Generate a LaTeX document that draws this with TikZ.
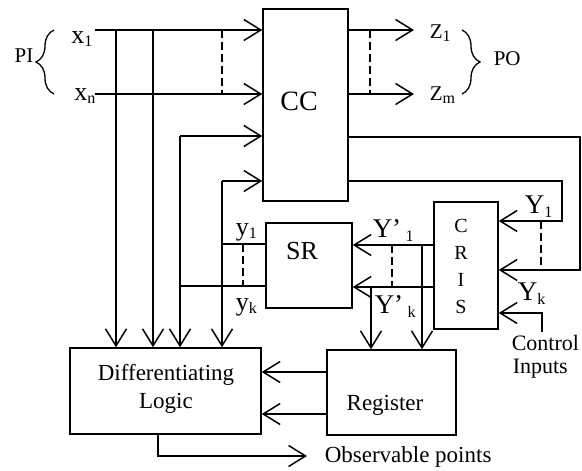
\documentclass[tikz,border=0pt]{standalone}
\usepackage{fontspec}
\setmainfont{Liberation Serif}
\usetikzlibrary{arrows.meta,decorations.pathreplacing}
\newcommand\mysub[1]{\raisebox{-0.15em}{\fontsize{16}{16}\selectfont #1}}
\begin{document}
\begin{tikzpicture}[x=1pt,y=-1pt,line width=1.5pt,
  box/.style={draw,rectangle,inner sep=0pt},
  lbl/.style={inner sep=0pt},
  arr/.style={-{Straight Barb[length=17pt,width=21pt]}},
  dsh/.style={dash pattern=on 8pt off 4pt},
  brc/.style={line width=1.3pt,decorate,decoration={brace,amplitude=18pt}},
  big/.style={font=\fontsize{26}{28}\selectfont},
  mid/.style={font=\fontsize{23}{28}\selectfont},
  sml/.style={font=\fontsize{21}{24}\selectfont}]
\useasboundingbox (0,0) rectangle (582,471);
% boxes
\node[box,minimum width=85pt,minimum height=192pt] (CC) at (305.5,105) {};
\node[box,minimum width=86pt,minimum height=85pt] (SR) at (309,265.5) {};
\node[box,minimum width=64pt,minimum height=127pt] (CRIS) at (466,265.5) {};
\node[box,minimum width=129pt,minimum height=85pt] (REG) at (391.5,392.5) {};
\node[box,minimum width=191pt,minimum height=86pt] (DL) at (165.5,391) {};
% box labels
\node[lbl,font=\fontsize{28}{28}\selectfont,anchor=base] (cct) at (299,110) {CC};
\node[lbl,big,anchor=base] (srt) at (302,259) {SR};
\node[lbl,font=\fontsize{20}{27}\selectfont,align=center] (crist) at (461,266) {C\\R\\I\\S};
\node[lbl,mid,anchor=base] (regt) at (385,410) {Register};
\node[lbl,mid,align=center,anchor=base] (dlt) at (166,408) {Differentiating\\Logic};
% primary inputs
\coordinate (x1s) at (95,30);
\coordinate (xns) at (95,94);
\coordinate (v1) at (116,30);
\coordinate (v2) at (153,30);
\coordinate (d1a) at (222,30);
\coordinate (d1b) at (222,94);
\coordinate (c3) at (180,136);
\coordinate (c4) at (222,181);
\draw[arr] (x1s) -- (x1s -| CC.west);
\draw[arr] (xns) -- (xns -| CC.west);
\draw[arr] (v1) -- (v1 |- DL.north);
\draw[arr] (v2) -- (v2 |- DL.north);
\draw[dsh] (d1a) -- (d1b);
\draw[arr] (c3) -- (c3 -| CC.west);
\draw[arr] (c3) -- (c3 |- DL.north);
\draw[arr] (c4) -- (c4 -| CC.west);
\draw[arr] (c4) -- (c4 |- DL.north);
\node[lbl,big,anchor=base east] (x1t) at (93,43) {x\mysub{1}};
\node[lbl,big,anchor=base east] (xnt) at (96,100) {x\mysub{n}};
\coordinate (pia) at (54,94);
\coordinate (pib) at (54,30);
\draw[brc] (pia) -- (pib);
\node[lbl,sml,anchor=base east] (pit) at (34,63) {PI};
% SR left side
\coordinate (sy1) at (222,244);
\coordinate (syk) at (180,286);
\draw (sy1) -- (sy1 -| SR.west);
\draw (syk) -- (syk -| SR.west);
\coordinate (d2a) at (243,244);
\coordinate (d2b) at (243,286);
\draw[dsh] (d2a) -- (d2b);
\node[lbl,big,anchor=base west] (y1t) at (235,235) {y\mysub{1}};
\node[lbl,big,anchor=base west] (ykt) at (235,310) {y\mysub{k}};
% primary outputs
\coordinate (z1) at (414,30);
\coordinate (zm) at (414,94);
\draw[arr] (z1 -| CC.east) -- (z1);
\draw[arr] (zm -| CC.east) -- (zm);
\coordinate (d3a) at (370,30);
\coordinate (d3b) at (370,94);
\draw[dsh] (d3a) -- (d3b);
\node[lbl,sml,anchor=base west] (z1t) at (429,38) {Z\mysub{1}};
\node[lbl,sml,anchor=base west] (zmt) at (429,100) {Z\mysub{m}};
\coordinate (poa) at (462,30);
\coordinate (pob) at (462,94);
\draw[brc] (poa) -- (pob);
\node[lbl,sml,anchor=base west] (pot) at (493,65) {PO};
% feedback to CRIS
\coordinate (f1) at (580,137);
\coordinate (f1b) at (580,270);
\draw[arr] (f1 -| CC.east) -- (f1) -- (f1b) -- (f1b -| CRIS.east);
\coordinate (f2) at (562,181);
\coordinate (f2b) at (562,221);
\draw[arr] (f2 -| CC.east) -- (f2) -- (f2b) -- (f2b -| CRIS.east);
\coordinate (d4a) at (541,221);
\coordinate (d4b) at (541,270);
\draw[dsh] (d4a) -- (d4b);
\node[lbl,font=\fontsize{27}{28}\selectfont,anchor=base west] (Y1t) at (524,213) {Y\mysub{1}};
\node[lbl,font=\fontsize{27}{28}\selectfont,anchor=base west] (Ykt) at (517,300) {Y\mysub{k}};
\coordinate (ctl) at (542,332);
\coordinate (ctlb) at (542,313);
\draw[arr] (ctl) -- (ctlb) -- (ctlb -| CRIS.east);
\node[lbl,font=\fontsize{22}{28}\selectfont,anchor=base west] (ctlt) at (511,350) {Control};
\node[lbl,font=\fontsize{22}{28}\selectfont,anchor=base west] (inpt) at (512,373) {Inputs};
% CRIS outputs
\coordinate (o1) at (422,245);
\coordinate (ok) at (371,287);
\draw[arr] (o1 -| CRIS.west) -- (o1 -| SR.east);
\draw[arr] (ok -| CRIS.west) -- (ok -| SR.east);
\draw[arr] (o1) -- (o1 |- REG.north);
\draw[arr] (ok) -- (ok |- REG.north);
\coordinate (d5a) at (392,245);
\coordinate (d5b) at (392,287);
\draw[dsh] (d5a) -- (d5b);
\node[lbl,font=\fontsize{27}{28}\selectfont,anchor=base west] (Yp1t) at (372,237) {Y'\,\mysub{1}};
\node[lbl,font=\fontsize{27}{28}\selectfont,anchor=base west] (Ypkt) at (374,313) {Y'\,\mysub{k}};
% register to DL
\coordinate (r1) at (327,372);
\coordinate (r2) at (327,414);
\draw[arr] (r1 -| REG.west) -- (r1 -| DL.east);
\draw[arr] (r2 -| REG.west) -- (r2 -| DL.east);
% observable points
\coordinate (ob) at (158,456);
\coordinate (obt) at (307,456);
\draw[arr] (ob |- DL.south) -- (ob) -- (obt);
\node[lbl,mid,anchor=base west] (obst) at (324,462) {Observable points};
\end{tikzpicture}
\end{document}
